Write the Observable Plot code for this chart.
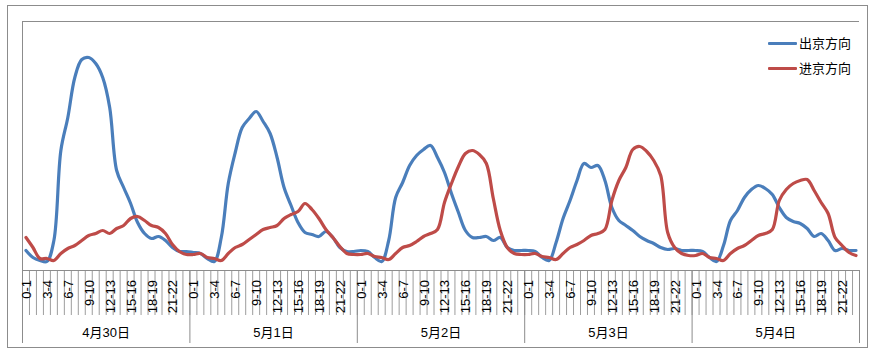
<!DOCTYPE html>
<html>
<head>
<meta charset="utf-8">
<script src="https://cdn.jsdelivr.net/npm/d3@7"></script>
<script src="https://cdn.jsdelivr.net/npm/@observablehq/plot@0.6"></script>
<style>
  body { margin: 0; background: #fff; }
  #wrap { position: relative; width: 871px; height: 360px; font-family: "Liberation Sans", "Noto Sans CJK SC", sans-serif; }
  #border { position: absolute; left: 7px; top: 5px; width: 861px; height: 343px; border: 1px solid #8c8c8c; box-sizing: border-box; pointer-events: none; }
  .leg { position: absolute; left: 768px; font-size: 13px; line-height: 16px; color: #000; }
  .leg .sw { position: absolute; left: 0; top: 6px; width: 29px; height: 3px; border-radius: 1px; }
  .leg .tx { position: absolute; left: 31px; top: 0; white-space: nowrap; }
</style>
</head>
<body>
<div id="wrap"><div id="chart"></div><div id="border"></div><div id="legend"></div></div>
<script>
// ---- data ----
const days = ["4月30日", "5月1日", "5月2日", "5月3日", "5月4日"];
const hours = ["0-1","1-2","2-3","3-4","4-5","5-6","6-7","7-8","8-9","9-10","10-11","11-12",
               "12-13","13-14","14-15","15-16","16-17","17-18","18-19","19-20","20-21","21-22","22-23","23-24"];
const seriesNames = ["出京方向", "进京方向"];
const seriesColors = ["#4a7ebb", "#be4b48"];
const outbound = [
  20, 13, 10, 9, 30, 120, 153, 193, 211, 213, 207, 193, 163, 100, 83, 67, 48, 37, 32, 34, 30, 23, 19, 19,
  18, 17, 12, 9, 33, 87, 118, 143, 152, 159, 149, 137, 113, 83, 65, 48, 38, 36, 34, 39, 33, 23, 19, 19,
  20, 19, 13, 9, 30, 73, 88, 105, 115, 121, 125, 113, 98, 77, 58, 40, 33, 33, 34, 30, 33, 23, 20, 20,
  20, 19, 13, 10, 28, 52, 70, 90, 107, 103, 105, 90, 63, 50, 45, 40, 34, 30, 27, 23, 21, 22, 20, 20,
  20, 19, 13, 9, 25, 50, 60, 73, 81, 85, 82, 76, 63, 53, 49, 47, 42, 34, 37, 30, 20, 22, 20, 20
];
const inbound = [
  33, 23, 12, 12, 10, 17, 22, 25, 30, 35, 37, 40, 37, 42, 45, 52, 54, 50, 45, 43, 37, 26, 19, 16,
  16, 17, 13, 12, 10, 17, 23, 26, 31, 36, 41, 43, 45, 52, 56, 59, 67, 61, 52, 41, 33, 24, 17, 16,
  16, 17, 14, 13, 11, 17, 23, 25, 29, 34, 37, 41, 68, 87, 104, 117, 120, 116, 107, 72, 40, 23, 17, 16,
  16, 17, 14, 13, 11, 17, 23, 26, 30, 35, 37, 41, 70, 90, 103, 121, 124, 119, 110, 95, 38, 23, 17, 15,
  15, 17, 13, 12, 10, 17, 22, 25, 30, 35, 37, 41, 70, 81, 87, 90, 91, 80, 68, 57, 33, 25, 18, 15
];
const yMax = 249;

// ---- build table ----
const n = days.length * hours.length;
const rows = [];
[outbound, inbound].forEach((vals, s) => {
  vals.forEach((v, i) => rows.push({series: seriesNames[s], x: i + 0.5, v}));
});
const hourTicks = d3.range(n).filter(i => (i % hours.length) % 3 === 0)
  .map(i => ({x: i + 0.5, label: hours[i % hours.length]}));
const dayTicks = days.map((d, k) => ({x: (k + 0.5) * hours.length, label: d}));
const dayBounds = days.map((d, k) => (k + 1) * hours.length);

const grey = "#8c8c8c";
const chart = Plot.plot({
  width: 871,
  height: 360,
  marginLeft: 22,
  marginRight: 12,
  marginTop: 21,
  marginBottom: 90,
  x: {domain: [0, n], axis: null},
  y: {domain: [0, yMax], axis: null},
  color: {domain: seriesNames, range: seriesColors},
  style: {fontFamily: '"Liberation Sans", "Noto Sans CJK SC", sans-serif', color: "#000"},
  marks: [
    Plot.ruleY([yMax], {stroke: grey, strokeWidth: 1}),
    Plot.ruleX(d3.range(n + 1), {stroke: grey, strokeWidth: 1, strokeOpacity: 0.85, insetTop: 249, insetBottom: -45}),
    Plot.ruleX(dayBounds, {stroke: grey, strokeWidth: 1, insetTop: 249, insetBottom: -73}),
    Plot.ruleX([0], {stroke: grey, strokeWidth: 1, insetBottom: -73}),
    Plot.ruleY([0], {stroke: grey, strokeWidth: 1}),
    Plot.text(hourTicks, {x: "x", text: "label", frameAnchor: "bottom", rotate: -90, textAnchor: "end", dx: 5, dy: 9.5, fontSize: 13, fill: "#000"}),
    Plot.text(dayTicks, {x: "x", text: "label", frameAnchor: "bottom", dy: 66, fontSize: 13, fill: "#000"}),
    Plot.line(rows, {x: "x", y: "v", z: "series", stroke: "series", strokeWidth: 3.2, curve: "catmull-rom"})
  ]
});
document.getElementById("chart").appendChild(chart);

// legend
const legend = document.getElementById("legend");
seriesNames.forEach((name, s) => {
  const item = document.createElement("div");
  item.className = "leg";
  item.style.top = (36 + s * 25) + "px";
  item.innerHTML = `<div class="sw" style="background:${seriesColors[s]}"></div><div class="tx">${name}</div>`;
  legend.appendChild(item);
});
</script>
</body>
</html>
